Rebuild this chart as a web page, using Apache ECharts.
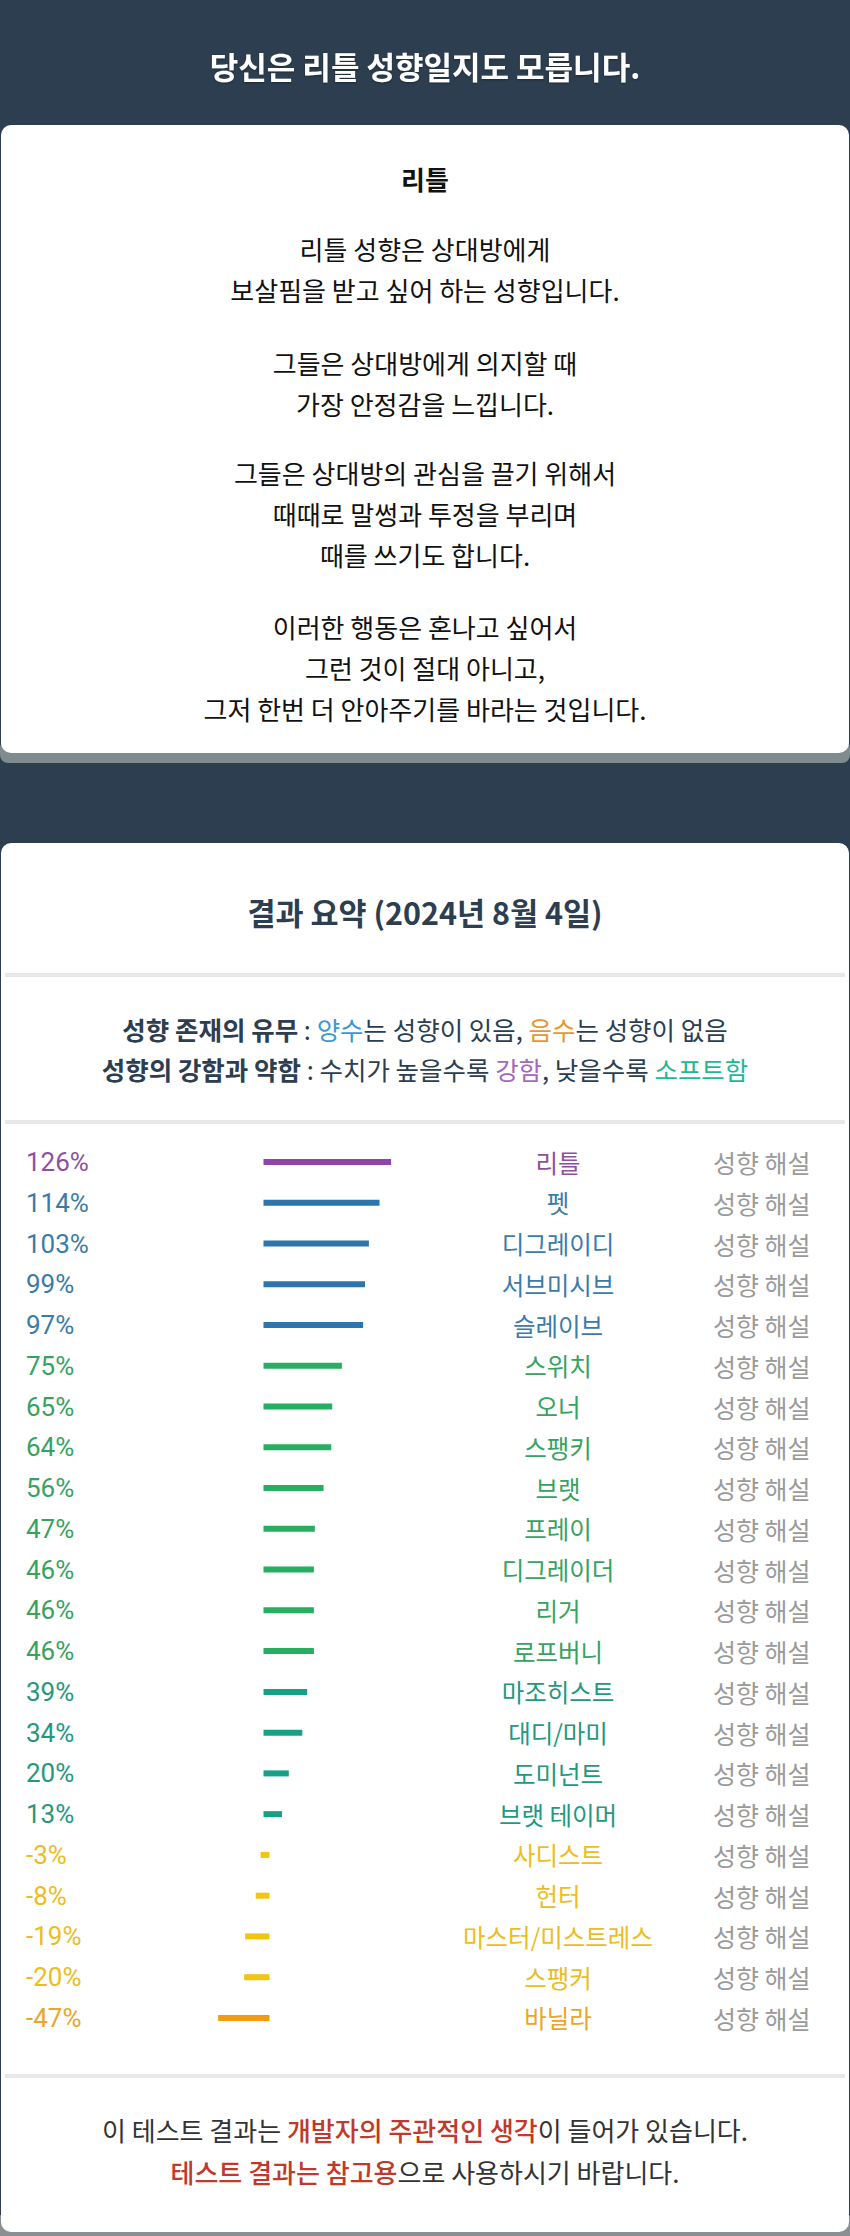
<!DOCTYPE html>
<html><head><meta charset="utf-8">
<script src="https://cdn.jsdelivr.net/npm/echarts@6/dist/echarts.min.js"></script>
<style>html,body{margin:0;padding:0;background:#2c3e50}#c{width:850px;height:2236px}</style>
</head><body><div id="c"></div>
<script>
// ---- data ----
const names = ['리틀','펫','디그레이디','서브미시브','슬레이브','스위치','오너','스팽키','브랫','프레이','디그레이더','리거','로프버니','마조히스트','대디/마미','도미넌트','브랫 테이머','사디스트','헌터','마스터/미스트레스','스팽커','바닐라'];
const values = [126,114,103,99,97,75,65,64,56,47,46,46,46,39,34,20,13,-3,-8,-19,-20,-47];
const detailLabel = '성향 해설';
const headerTitle = '당신은 리틀 성향일지도 모릅니다.';
const typeName = '리틀';
const paragraphs = [
  ['리틀 성향은 상대방에게','보살핌을 받고 싶어 하는 성향입니다.'],
  ['그들은 상대방에게 의지할 때','가장 안정감을 느낍니다.'],
  ['그들은 상대방의 관심을 끌기 위해서','때때로 말썽과 투정을 부리며','때를 쓰기도 합니다.'],
  ['이러한 행동은 혼나고 싶어서','그런 것이 절대 아니고,','그저 한번 더 안아주기를 바라는 것입니다.']
];
const summaryTitle = '결과 요약 (2024년 8월 4일)';
const infoLine1 = '{b|성향 존재의 유무}{n| : }{blue|양수}{n|는 성향이 있음, }{orange|음수}{n|는 성향이 없음}';
const infoLine2 = '{b|성향의 강함과 약함}{n| : 수치가 높을수록 }{purple|강함}{n|, 낮을수록 }{teal|소프트함}';
const footLine1 = '{n|이 테스트 결과는 }{r|개발자의 주관적인 생각}{n|이 들어가 있습니다.}';
const footLine2 = '{r|테스트 결과는 참고용}{n|으로 사용하시기 바랍니다.}';

// ---- styles ----
const KR = "'Noto Sans CJK KR', 'Noto Sans', sans-serif";
const NAVY = '#2c3e50';
function barColor(v){
  if (v >= 120) return '#8e44ad';
  if (v >= 80) return '#2e75ad';
  if (v >= 40) return '#27ae60';
  if (v >= 0) return '#16a085';
  if (v > -40) return '#f1c40f';
  return '#f39c12';
}
function txtColor(v){
  if (v >= 120) return '#8e4f9f';
  if (v >= 80) return '#3a7ca8';
  if (v >= 40) return '#37a262';
  if (v >= 0) return '#24987f';
  if (v > -40) return '#ebbd22';
  return '#eba52a';
}
function tok(size, weight, color){ return {fontSize:size, fontWeight:weight, fontFamily:KR, fill:color}; }

const ZERO_X = 266.5, PX = 0.965, XMIN = -60, XMAX = 140;
const gridLeft = ZERO_X + XMIN*PX, gridW = (XMAX-XMIN)*PX;
const rowH = 40.76, firstRow = 1162;
const gridTop = firstRow - rowH/2, gridH = rowH*names.length;
const gridRight = gridLeft + gridW;

const paraY = [268.5, 382.5, 513, 667];
const INFO = 25.5, FOOT = 26, BODY = 26;

const elements = [
  {type:'rect', z:-20, shape:{x:0,y:0,width:850,height:2236}, style:{fill:NAVY}},
  {type:'rect', z:-15, shape:{x:0,y:740,width:850,height:23,r:8}, style:{fill:'#7f8c8d'}},
  {type:'rect', z:-12, shape:{x:1,y:125,width:848,height:628,r:10}, style:{fill:'#ffffff'}},
  {type:'rect', z:-15, shape:{x:0,y:2215,width:850,height:21}, style:{fill:'#8a8f94'}},
  {type:'rect', z:-12, shape:{x:1,y:843,width:848,height:1389,r:10}, style:{fill:'#ffffff'}},
  {type:'rect', z:-11, shape:{x:5,y:973,width:840,height:4}, style:{fill:'#e8e8e8'}},
  {type:'rect', z:-11, shape:{x:5,y:1120,width:840,height:4}, style:{fill:'#e8e8e8'}},
  {type:'rect', z:-11, shape:{x:5,y:2074,width:840,height:4}, style:{fill:'#e8e8e8'}},
  {type:'text', z:10, x:425, y:65, style:{text:headerTitle, fill:'#ffffff', fontSize:31, fontWeight:'bold', fontFamily:KR, align:'center', verticalAlign:'middle', textShadowColor:'rgba(0,0,0,0.35)', textShadowBlur:2, textShadowOffsetY:1}},
  {type:'text', z:10, x:425, y:178, style:{text:typeName, fill:'#111111', fontSize:26, fontWeight:'bold', fontFamily:KR, align:'center', verticalAlign:'middle'}},
  {type:'text', z:10, x:425, y:912, style:{text:summaryTitle, fill:NAVY, fontSize:30.5, fontWeight:'bold', fontFamily:KR, align:'center', verticalAlign:'middle'}},
  {type:'text', z:10, x:425, y:1028, style:{text:infoLine1, align:'center', verticalAlign:'middle', rich:{
     b:tok(INFO,'bold',NAVY), n:tok(INFO,'normal',NAVY), blue:tok(INFO,'normal','#3d97d0'), orange:tok(INFO,'normal','#eb9532')}}},
  {type:'text', z:10, x:425, y:1068, style:{text:infoLine2, align:'center', verticalAlign:'middle', rich:{
     b:tok(INFO,'bold',NAVY), n:tok(INFO,'normal',NAVY), purple:tok(INFO,'normal','#a468be'), teal:tok(INFO,'normal','#1fb897')}}},
  {type:'text', z:10, x:425, y:2129, style:{text:footLine1, align:'center', verticalAlign:'middle', rich:{
     n:tok(FOOT,'normal','#333333'), r:tok(FOOT,'500','#c0392b')}}},
  {type:'text', z:10, x:425, y:2171, style:{text:footLine2, align:'center', verticalAlign:'middle', rich:{
     n:tok(FOOT,'normal','#333333'), r:tok(FOOT,'500','#c0392b')}}}
];
paragraphs.forEach((p,i)=>{
  elements.push({type:'text', z:10, x:425, y:paraY[i], style:{text:p.join('\n'), fill:'#111111', fontSize:BODY, fontFamily:KR, align:'center', verticalAlign:'middle', lineHeight:41}});
});

const hiddenAxis = {axisLine:{show:false}, axisTick:{show:false}, splitLine:{show:false}};
const chart = echarts.init(document.getElementById('c'), null, {renderer:'svg', width:850, height:2236});
chart.setOption({
  animation:false,
  backgroundColor:'transparent',
  graphic:{elements},
  grid:{left:gridLeft, top:gridTop, width:gridW, height:gridH, containLabel:false},
  xAxis:{type:'value', min:XMIN, max:XMAX, show:false},
  yAxis:[
    Object.assign({type:'category', data:names, inverse:true, position:'left',
      axisLabel:{interval:0, margin:gridLeft-26, align:'left', fontSize:26, fontFamily:"Roboto, 'Noto Sans', sans-serif",
        formatter:(v)=> values[names.indexOf(v)] + '%', color:(v)=> txtColor(values[names.indexOf(v)])}}, hiddenAxis),
    Object.assign({type:'category', data:names, inverse:true, position:'right', offset:0,
      axisLabel:{interval:0, margin:558-gridRight, align:'center', fontSize:24.5, fontFamily:KR, padding:[8,0,0,0],
        color:(v)=> txtColor(values[names.indexOf(v)])}}, hiddenAxis),
    Object.assign({type:'category', data:names, inverse:true, position:'right', offset:0,
      axisLabel:{interval:0, margin:713-gridRight, align:'left', fontSize:25, fontFamily:KR, padding:[8,0,0,0],
        formatter:()=> detailLabel, color:'#9a9a9a'}}, hiddenAxis)
  ],
  series:[{
    type:'custom', xAxisIndex:0, yAxisIndex:0,
    data: values.map((v,i)=>[v,i]),
    encode:{x:0, y:1},
    renderItem:(params, api)=>{
      const v = api.value(0), c = api.value(1);
      const p0 = api.coord([0, c]), p1 = api.coord([v, c]);
      return {type:'line', shape:{x1:p0[0], y1:p0[1], x2:p1[0], y2:p1[1]},
        style:{stroke:barColor(v), lineWidth:6, lineCap:'square'}};
    }
  }]
});
</script></body></html>
